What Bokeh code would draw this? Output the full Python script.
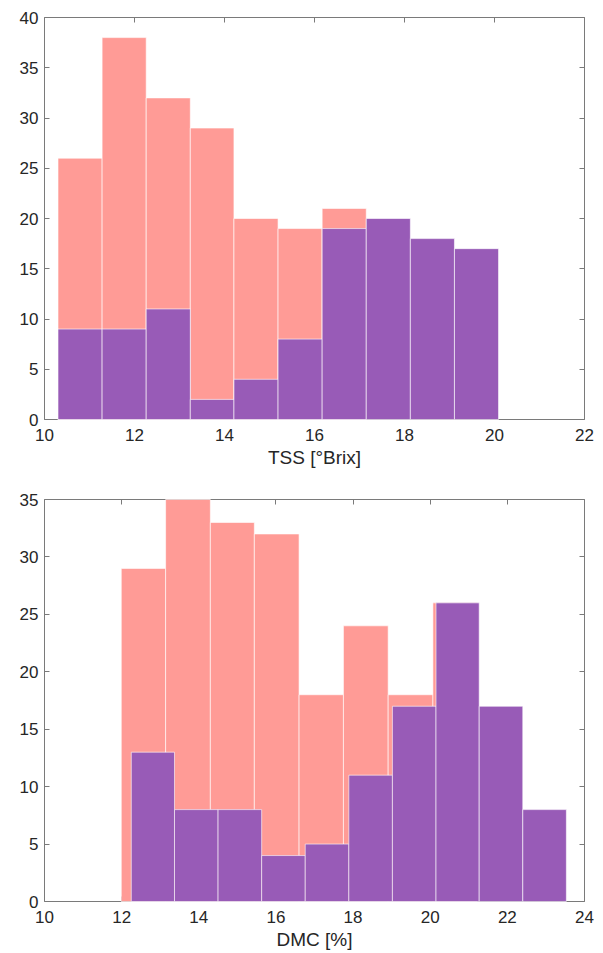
from bokeh.plotting import figure
from bokeh.layouts import column
from bokeh.models import LinearAxis, Range1d, FixedTicker, ColumnDataSource
from bokeh.embed import file_html
from bokeh.resources import INLINE

# ---- data ----
tss_edges = [10.30, 11.28, 12.26, 13.24, 14.21, 15.19, 16.17, 17.15, 18.13, 19.11, 20.09]
tss_pink = [26, 38, 32, 29, 20, 19, 21]
tss_purple = [9, 9, 11, 2, 4, 8, 19, 20, 18, 17]
tss_xticks = [10, 12, 14, 16, 18, 20, 22]
tss_yticks = [0, 5, 10, 15, 20, 25, 30, 35, 40]

dmc_pink_edges = [11.99, 13.14, 14.30, 15.44, 16.60, 17.75, 18.91, 20.07, 21.22]
dmc_pink = [29, 35, 33, 32, 18, 24, 18, 26]
dmc_purple_edges = [12.25, 13.37, 14.50, 15.63, 16.76, 17.89, 19.02, 20.15, 21.27, 22.40, 23.53]
dmc_purple = [13, 8, 8, 4, 5, 11, 17, 26, 17, 8]
dmc_xticks = [10, 12, 14, 16, 18, 20, 22, 24]
dmc_yticks = [0, 5, 10, 15, 20, 25, 30, 35]

PINK = "#FF9B96"
PURPLE = "#985BB7"
AXC = "#7a7a7a"
TXT = "#262626"
FONT = "Liberation Sans"


def style_axis(ax, ticks, labels=True, label=None):
    ax.ticker = FixedTicker(ticks=ticks)
    ax.axis_line_color = AXC
    ax.major_tick_line_color = AXC
    ax.minor_tick_line_color = None
    ax.major_tick_in = 5
    ax.major_tick_out = 0
    if labels:
        ax.major_label_text_font = FONT
        ax.major_label_text_font_size = "17px"
        ax.major_label_text_color = TXT
    else:
        ax.major_label_text_alpha = 0
        ax.major_label_text_font_size = "1px"
        ax.major_label_standoff = 0
    if label:
        ax.axis_label = label
        ax.axis_label_text_font = FONT
        ax.axis_label_text_font_size = "19px"
        ax.axis_label_text_font_style = "normal"
        ax.axis_label_text_color = TXT


def hist_fig(xr, yr, xticks, yticks, xlabel, series, left, top, bottom):
    p = figure(frame_width=540, frame_height=402, x_range=Range1d(*xr), y_range=Range1d(*yr),
               output_backend="svg", toolbar_location=None,
               min_border_left=left, min_border_right=603 - left - 540,
               min_border_top=top, min_border_bottom=bottom)
    p.outline_line_color = None
    p.xgrid.visible = False
    p.ygrid.visible = False
    p.background_fill_color = "white"
    p.border_fill_color = "white"
    for edges, vals, col in series:
        src = ColumnDataSource(dict(left=edges[:len(vals)], right=edges[1:len(vals) + 1], top=vals,
                                    bottom=[0] * len(vals)))
        r = p.quad(left="left", right="right", top="top", bottom="bottom", source=src,
                   fill_color=col, fill_alpha=1.0, line_color="white", line_alpha=0.6, line_width=1)
        r.level = "overlay"
    style_axis(p.xaxis[0], xticks, True, xlabel)
    p.xaxis[0].major_label_standoff = 9
    p.xaxis[0].axis_label_standoff = 3
    style_axis(p.yaxis[0], yticks, True)
    p.yaxis[0].major_label_standoff = 6
    above = LinearAxis()
    style_axis(above, xticks, False)
    p.add_layout(above, "above")
    right = LinearAxis()
    style_axis(right, yticks, False)
    p.add_layout(right, "right")
    return p


p1 = hist_fig((10, 22), (0, 40), tss_xticks, tss_yticks, "TSS [°Brix]",
              [(tss_edges, tss_pink, PINK), (tss_edges, tss_purple, PURPLE)], 43, 17, 51)
p2 = hist_fig((10, 24), (0, 35), dmc_xticks, dmc_yticks, "DMC [%]",
              [(dmc_pink_edges, dmc_pink, PINK), (dmc_purple_edges, dmc_purple, PURPLE)], 44, 29, 51)

layout = column(p1, p2, spacing=0)
open("out.html", "w").write(file_html(layout, INLINE))
